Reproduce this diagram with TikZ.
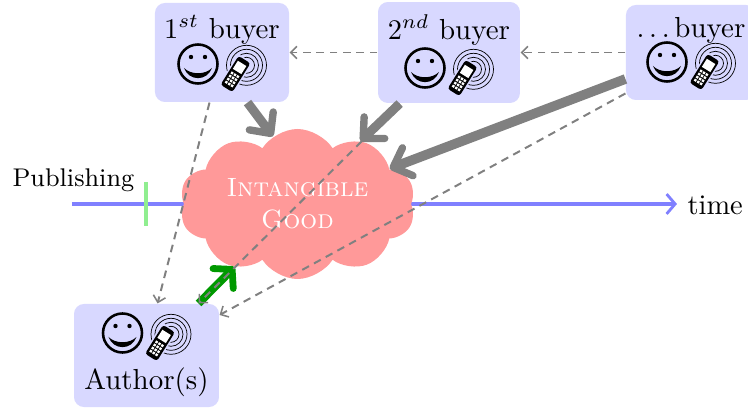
\documentclass[tikz,border=0pt]{standalone}
\usetikzlibrary{shapes.symbols,arrows.meta}
\definecolor{boxblue}{RGB}{216,216,255}
\definecolor{cloudpink}{RGB}{255,153,153}
\definecolor{lineblue}{RGB}{128,128,255}
\definecolor{tickgreen}{RGB}{144,238,144}
\definecolor{arrowgreen}{RGB}{0,153,0}
\tikzset{
  x=0.352pt,y=-0.352pt,
  actor/.style={fill=boxblue,rounded corners=3.5pt,inner sep=0pt},
  lbl/.style={inner sep=0pt,font=\fontsize{10.2}{12}\selectfont},
  dashconn/.style={draw=gray,line width=0.7pt,dash pattern=on 2.7pt off 2pt,-{Straight Barb[length=2.2pt,width=4.4pt,line width=0.55pt]}},
  heavy/.style={draw=gray,line width=#1,-{Straight Barb[length=5.5pt,width=10.5pt,round,line width=2.6pt]}},
  pics/smile/.style={code={
    \draw[line width=0.9pt] (0,0) circle (19.5);
    \fill (-7,-7) circle (2.2) (7,-7) circle (2.2);
    \fill (-14,4) .. controls (-7,11) and (7,11) .. (14,4) .. controls (9,17.5) and (-9,17.5) .. (-14,4);
  }},
  pics/phone/.style={code={
    \foreach \r in {8,12,16,20}{\draw[line width=0.25pt] (11,-8.7) circle (\r);}
    \begin{scope}[rotate=-32]
      \fill[boxblue] (-8.5,-18.5) rectangle (8.5,18.5);
      \fill[rounded corners=1pt] (-7,-17) rectangle (7,17);
      \fill[white] (-5,-12.5) rectangle (5,-3);
      \foreach \px in {-3.4,0,3.4}{\foreach \py in {1,4.6,8.2,11.8}{\fill[white] (\px-1.2,\py-1.2) rectangle (\px+1.2,\py+1.2);}}
    \end{scope}
  }},
}
\begin{document}
\begin{tikzpicture}
\useasboundingbox (0,0) rectangle (748,408);
\node[minimum width=47.17pt,minimum height=34.85pt,actor] (b1) at (222,52.5) {};
\node[minimum width=49.98pt,minimum height=35.55pt,actor] (b2) at (449,52.5) {};
\node[minimum width=45.76pt,minimum height=33.44pt,actor] (b3) at (691,52.5) {};
\node[minimum width=51.04pt,minimum height=36.26pt,actor] (a) at (146.5,355.5) {};
\node[lbl] (t1) at (222,30) {$1^{st}$ buyer};
\node[lbl] (t2) at (449,30) {$2^{nd}$ buyer};
\node[lbl] (t3) at (691,30) {$\ldots\,$buyer};
\node[lbl] (t4) at (146.5,382) {Author(s)};
\pic at (198,64) {smile}; \pic at (235.5,74) {phone};
\pic at (425,68) {smile}; \pic at (462.5,78) {phone};
\pic at (667,62) {smile}; \pic at (704.5,72) {phone};
\pic at (122.5,333) {smile}; \pic at (160,343) {phone};
\node[inner sep=0pt,anchor=west,font=\small] (pub) at (12,180) {Publishing};
\node[inner sep=0pt,anchor=west,font=\normalsize] (time) at (687,205) {time};
\coordinate (start) at (72,204);
\coordinate (timeend) at (677,204);
\draw[lineblue,line width=1.1pt,-{Straight Barb[length=3pt,width=7pt,line width=1pt]}] (start) -- (timeend);
\coordinate (ticktop) at (146,182);
\coordinate (tickbot) at (146,226);
\draw[tickgreen,line width=1.2pt] (ticktop) -- (tickbot);
\node[cloud,cloud puffs=10,cloud puff arc=115,cloud ignores aspect,fill=cloudpink,text=white,inner sep=0pt,
  minimum width=83pt,minimum height=52.8pt,align=center,font=\fontsize{9.3}{11.2}\selectfont] (c) at (297.5,204)
  {\textsc{Intangible}\\\textsc{Good}};
\draw[heavy=3.2pt] (b1.-63.6) -- (c.110);
\draw[heavy=3.2pt] (b2.-134.7) -- (c.45.2);
\draw[heavy=3.4pt] (b3.-158.3) -- (c.21);
\draw[draw=arrowgreen,line width=2.8pt,-{Straight Barb[length=4.5pt,width=10pt,round,line width=2.4pt]}] (a.45) -- (c.-135);
\draw[dashconn] (b3.180) -- (b2.0);
\draw[dashconn] (b2.180) -- (b1.0);
\draw[dashconn] (b1.-104.4) -- (a.78.6);
\draw[dashconn] (b2.-134.7) -- (a.45);
\draw[dashconn] (b3.-148.7) -- (a.29.2);
\end{tikzpicture}
\end{document}
